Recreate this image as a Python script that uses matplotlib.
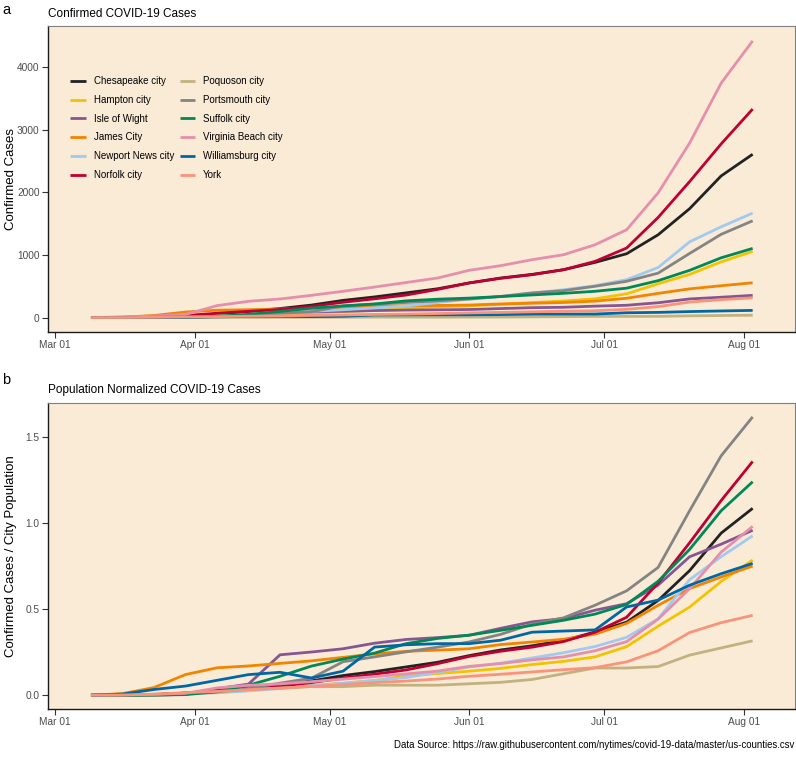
import numpy as np
import pandas as pd
import matplotlib
matplotlib.use("Agg")
import matplotlib.pyplot as plt
import matplotlib.dates as mdates

plt.rcParams['font.family'] = ['Liberation Sans', 'DejaVu Sans']

# weekly snapshots, Mar 9 .. Aug 3 2020
dates = pd.date_range("2020-03-09", "2020-08-03", freq="7D")

cities = ["Chesapeake city", "Hampton city", "Isle of Wight", "James City",
          "Newport News city", "Norfolk city", "Poquoson city", "Portsmouth city",
          "Suffolk city", "Virginia Beach city", "Williamsburg city", "York"]

colors = ["#222222", "#F3C300", "#875692", "#F38400", "#A1CAF1", "#BE0032",
          "#C2B280", "#848482", "#008856", "#E68FAC", "#0067A5", "#F99379"]

population = [240000, 134500, 37000, 74000, 180000, 245000,
              12000, 95500, 89000, 450000, 15000, 68000]

# cumulative confirmed cases
chesapeake = [0, 3, 10, 30, 55, 100, 145, 200, 275, 330, 395, 460, 553, 632, 690, 765, 882, 1020, 1323, 1740, 2263, 2609]
hampton = [0, 0, 3, 15, 30, 45, 60, 75, 95, 115, 150, 170, 188, 210, 240, 265, 300, 380, 540, 690, 890, 1057]
isle_of_wight = [0, 0, 0, 2, 14, 24, 87, 93, 100, 112, 120, 124, 129, 144, 158, 165, 183, 197, 237, 298, 325, 355]
james_city = [0, 7, 33, 89, 118, 126, 137, 148, 163, 178, 189, 194, 200, 218, 229, 241, 263, 309, 387, 459, 509, 556]
newport_news = [0, 1, 5, 15, 25, 45, 70, 100, 125, 155, 185, 240, 295, 335, 390, 445, 510, 606, 800, 1210, 1450, 1669]
norfolk = [0, 2, 8, 30, 70, 100, 130, 180, 245, 300, 360, 450, 553, 627, 685, 765, 898, 1111, 1600, 2173, 2774, 3331]
poquoson = [0, 0, 0, 1, 2, 4, 5, 6, 6, 7, 7, 7, 8, 9, 11, 15, 19, 19, 20, 28, 33, 38]
portsmouth = [0, 0, 3, 10, 19, 38, 67, 95, 186, 213, 241, 267, 296, 338, 395, 430, 500, 580, 710, 1025, 1330, 1546]
suffolk = [0, 0, 1, 3, 18, 52, 98, 151, 187, 218, 267, 294, 311, 336, 362, 388, 420, 470, 590, 755, 955, 1105]
virginia_beach = [0, 10, 25, 50, 191, 260, 297, 356, 420, 488, 560, 632, 755, 829, 925, 1004, 1164, 1403, 1992, 2789, 3745, 4420]
williamsburg = [0, 1, 5, 8, 13, 18, 20, 15, 21, 42, 44, 45, 45, 48, 55, 56, 57, 77, 83, 96, 106, 115]
york = [0, 1, 4, 10, 15, 22, 28, 35, 42, 50, 56, 64, 75, 83, 92, 101, 109, 132, 176, 248, 287, 316]

cases = [chesapeake, hampton, isle_of_wight, james_city, newport_news, norfolk,
         poquoson, portsmouth, suffolk, virginia_beach, williamsburg, york]

bg = "#FAEBD7"
fig = plt.figure(figsize=(7.96, 7.59), dpi=100)
ax1 = fig.add_axes([0.0603, 0.5626, 0.9384, 0.4025])
ax2 = fig.add_axes([0.0603, 0.0659, 0.9384, 0.4032])

for name, col, pop, c in zip(cities, colors, population, cases):
    c = np.array(c, dtype=float)
    ax1.plot(dates, c, color=col, lw=2.0, label=name, solid_capstyle="butt")
    ax2.plot(dates, c / pop * 100, color=col, lw=2.0, solid_capstyle="butt")

x0 = pd.Timestamp("2020-03-01")
for ax in (ax1, ax2):
    ax.set_facecolor(bg)
    ax.set_xlim(x0 - pd.Timedelta(days=1.55), x0 + pd.Timedelta(days=164.4))
    ax.xaxis.set_major_locator(mdates.MonthLocator())
    ax.xaxis.set_major_formatter(mdates.DateFormatter("%b %d"))
    ax.tick_params(axis="both", direction="out", length=4, width=0.8, pad=2,
                   colors="#333333", labelsize=7.3, labelcolor="#4d4d4d")
    for s in ("top", "right"):
        ax.spines[s].set_color("#7f7f7f")
        ax.spines[s].set_linewidth(0.8)
    for s in ("left", "bottom"):
        ax.spines[s].set_color("#1a1a1a")
        ax.spines[s].set_linewidth(1.0)

ax1.set_ylim(-230, 4650)
ax1.set_yticks([0, 1000, 2000, 3000, 4000])
ax1.set_ylabel("Confirmed Cases", fontsize=9.5)
ax1.yaxis.set_label_coords(-0.0415, 0.5)
ax1.set_title("Confirmed COVID-19 Cases", loc="left", fontsize=8.5, pad=7)

ax2.set_ylim(-0.08, 1.70)
ax2.set_yticks([0, 0.5, 1.0, 1.5])
ax2.yaxis.set_major_formatter(matplotlib.ticker.FormatStrFormatter("%.1f"))
ax2.set_ylabel("Confirmed Cases / City Population", fontsize=9.5)
ax2.yaxis.set_label_coords(-0.0415, 0.5)
ax2.set_title("Population Normalized COVID-19 Cases", loc="left", fontsize=8.5, pad=7)

ax1.legend(loc="upper left", bbox_to_anchor=(0.018, 0.866), ncol=2, frameon=False,
           fontsize=7, handlelength=1.6, handletextpad=0.8, labelspacing=0.9,
           columnspacing=0.6)

fig.text(0.003, 0.996, "a", fontsize=10.5, va="top")
fig.text(0.003, 0.509, "b", fontsize=10.5, va="top")
fig.text(0.998, 0.012, "Data Source: https://raw.githubusercontent.com/nytimes/covid-19-data/master/us-counties.csv",
         fontsize=6.9, ha="right", va="bottom")

fig.savefig("out.png", dpi=100)
